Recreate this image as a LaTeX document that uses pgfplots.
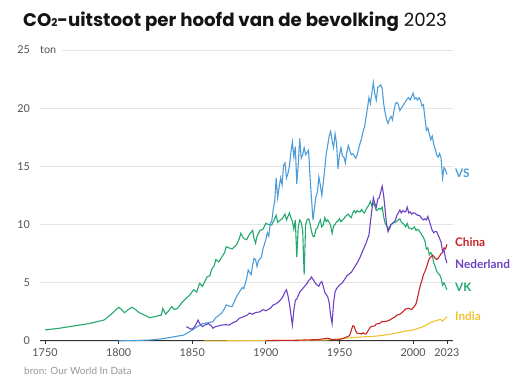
\documentclass[border=0pt]{standalone}
\usepackage{pgfplots}
\pgfplotsset{compat=1.18}
\usepackage{fontspec}
\setmainfont{Lato}
\newfontfamily\titlefont{Poppins}
\definecolor{vsblue}{RGB}{77,157,217}
\definecolor{vkgreen}{RGB}{35,168,110}
\definecolor{nlpurple}{RGB}{108,66,196}
\definecolor{cnred}{RGB}{200,36,40}
\definecolor{ingold}{RGB}{238,196,52}
\definecolor{ticktext}{RGB}{80,80,80}
\definecolor{srctext}{RGB}{150,150,150}
\definecolor{gridc}{RGB}{228,228,228}
\begin{document}
\begin{tikzpicture}
\path[use as bounding box] (0,0) rectangle (524bp,384bp);
\node[anchor=base west, inner sep=0pt] at (23bp,357bp) {\titlefont\fontsize{18.2bp}{20bp}\selectfont\color[RGB]{20,20,20}\textbf{CO\raisebox{0.6bp}{\fontsize{10.7bp}{10bp}\selectfont 2}-uitstoot per hoofd van de bevolking} 2023};
\node[anchor=base west, inner sep=0pt, text=srctext] at (24bp,10bp) {\fontsize{10bp}{12bp}\selectfont bron: Our World In Data};
\begin{axis}[
  at={(40bp,43bp)}, anchor=south west,
  scale only axis, width=413.3bp, height=291bp,
  xmin=1746.6, xmax=2027.3, ymin=0, ymax=25,
  axis x line*=bottom, axis y line*=left,
  y axis line style={draw=none},
  x axis line style={draw=black!80, line width=1bp},
  xtick={1750,1800,1850,1900,1950,2000,2023},
  ytick={0,5,10,15,20,25},
  xtick style={draw=black!80, line width=0.8bp},
  major tick length=3bp, tick align=outside,
  ytick style={draw=none},
  ymajorgrids, grid style={draw=gridc, line width=0.9bp},
  /pgf/number format/assume math mode=true,
  /pgf/number format/1000 sep={},
  tick label style={font=\fontsize{10.8bp}{12bp}\selectfont, text=ticktext},
  yticklabel style={anchor=east, inner sep=0pt, xshift=-7bp},
  xticklabel style={anchor=north, inner sep=0pt, yshift=-4bp},
  clip=false,
]
\addplot[vkgreen, line width=1.1bp] coordinates {
(1750,0.95)(1760,1.1)(1770,1.3)(1780,1.5)(1790,1.8)(1795,2.3)(1800,2.9)(1802,2.7)(1804,2.43)(1806,2.65)(1809,2.9)(1811,2.75)(1814,2.43)(1818,2.2)(1821,2.0)(1825,2.1)(1829,2.23)(1830,2.8)(1832,2.3)(1834,2.6)(1836,2.95)(1838,2.7)(1840,2.8)(1843,3.3)(1846,3.7)(1848,3.9)(1851,4.4)(1853,4.2)(1855,4.95)(1857,4.7)(1860,5.5)(1862,5.6)(1863,6.1)(1865,6.5)(1866,7.0)(1868,6.8)(1870,7.2)(1872,7.6)(1873,8.1)(1875,8.0)(1877,7.9)(1880,8.25)(1882,8.8)(1883,9.25)(1885,8.8)(1887,8.7)(1889,9.2)(1891,9.5)(1892,8.8)(1893,8.4)(1894,9.0)(1896,9.5)(1898,9.6)(1900,10.1)(1902,10.0)(1904,9.97)(1906,10.5)(1907,10.8)(1908,10.2)(1909,10.3)(1911,10.5)(1912,10.7)(1913,10.9)(1914,10.4)(1916,11.0)(1917,10.6)(1918,10.3)(1919,9.6)(1920,10.4)(1921,7.2)(1922,9.8)(1923,10.4)(1924,10.2)(1925,9.5)(1926,5.7)(1927,10.0)(1928,10.4)(1929,10.5)(1930,10.1)(1931,9.4)(1932,9.0)(1933,9.0)(1934,9.6)(1935,9.7)(1936,10.1)(1937,10.4)(1938,9.8)(1939,10.0)(1940,10.6)(1941,10.25)(1942,10.4)(1943,10.2)(1944,9.9)(1945,9.25)(1946,9.9)(1947,10.0)(1948,10.25)(1949,10.3)(1950,10.5)(1951,10.25)(1952,10.4)(1953,10.5)(1954,10.7)(1955,10.8)(1956,10.9)(1957,10.7)(1958,10.6)(1959,11.0)(1960,11.2)(1961,11.0)(1962,11.2)(1963,11.1)(1964,11.1)(1965,11.3)(1966,11.1)(1967,11.0)(1968,11.3)(1969,11.5)(1970,11.7)(1971,12.0)(1972,11.6)(1973,11.8)(1974,11.6)(1975,11.2)(1976,11.3)(1977,11.4)(1978,11.3)(1979,11.5)(1980,10.7)(1981,10.1)(1982,9.9)(1983,9.7)(1984,9.6)(1985,10.0)(1986,10.1)(1987,10.2)(1988,10.2)(1989,10.3)(1990,10.4)(1991,10.5)(1992,10.2)(1993,10.1)(1994,10.0)(1995,9.8)(1996,10.1)(1997,9.7)(1998,9.7)(1999,9.6)(2000,9.7)(2001,9.8)(2002,9.5)(2003,9.6)(2004,9.5)(2005,9.3)(2006,9.1)(2007,8.9)(2008,8.6)(2009,7.9)(2010,8.0)(2011,7.4)(2012,7.6)(2013,7.4)(2014,6.7)(2015,6.4)(2016,6.0)(2017,5.8)(2018,5.7)(2019,5.4)(2020,4.8)(2021,5.0)(2022,4.7)(2023,4.4)
};
\addplot[vsblue, line width=1.1bp] coordinates {
(1800,0.02)(1810,0.04)(1820,0.08)(1825,0.12)(1830,0.2)(1835,0.3)(1840,0.42)(1844,0.5)(1847,0.7)(1850,0.95)(1853,1.2)(1857,1.5)(1860,1.55)(1864,1.66)(1866,2.0)(1868,2.2)(1870,2.4)(1872,2.8)(1873,3.1)(1875,3.0)(1877,2.95)(1879,3.5)(1880,3.8)(1882,4.2)(1884,4.6)(1885,4.5)(1887,5.4)(1888,6.1)(1890,5.7)(1891,6.5)(1892,7.1)(1893,7.0)(1894,6.4)(1895,6.9)(1897,7.2)(1898,7.9)(1900,8.7)(1901,9.3)(1902,9.0)(1903,10.1)(1904,10.3)(1905,11.3)(1906,12.0)(1907,14.0)(1908,12.3)(1909,13.2)(1910,14.0)(1911,13.4)(1912,15.1)(1913,15.3)(1914,14.0)(1915,14.4)(1916,15.0)(1917,16.2)(1918,17.1)(1919,15.8)(1920,16.7)(1921,13.5)(1922,15.2)(1923,17.4)(1924,15.7)(1925,16.0)(1926,16.6)(1927,16.0)(1928,16.2)(1929,16.4)(1930,14.1)(1931,12.2)(1932,10.4)(1933,11.4)(1934,12.4)(1935,12.8)(1936,14.1)(1937,13.4)(1938,12.5)(1939,13.6)(1940,14.8)(1941,16.1)(1942,16.8)(1943,17.6)(1944,18.0)(1945,17.2)(1946,16.6)(1947,17.8)(1948,17.0)(1949,14.8)(1950,16.0)(1951,16.6)(1952,15.9)(1953,15.8)(1954,15.3)(1955,16.2)(1956,16.8)(1957,16.4)(1958,16.0)(1959,16.1)(1960,15.9)(1961,15.7)(1962,16.0)(1963,16.5)(1964,17.0)(1965,17.4)(1966,18.0)(1967,18.4)(1968,19.2)(1969,20.0)(1970,20.9)(1971,20.4)(1972,21.3)(1973,22.2)(1974,21.2)(1975,20.7)(1976,21.8)(1977,21.9)(1978,22.0)(1979,21.7)(1980,20.4)(1981,19.6)(1982,19.0)(1983,18.7)(1984,19.1)(1985,19.3)(1986,19.0)(1987,19.8)(1988,20.4)(1989,20.5)(1990,20.3)(1991,19.8)(1992,20.0)(1993,20.2)(1994,20.4)(1995,20.6)(1996,20.8)(1997,20.9)(1998,20.7)(1999,21.0)(2000,21.3)(2001,20.8)(2002,20.9)(2003,20.7)(2004,20.9)(2005,20.7)(2006,20.2)(2007,20.3)(2008,19.2)(2009,18.1)(2010,18.3)(2011,17.8)(2012,17.3)(2013,17.6)(2014,16.9)(2015,16.5)(2016,16.0)(2017,15.8)(2018,16.1)(2019,15.7)(2020,14.0)(2021,14.9)(2022,14.7)(2023,14.3)
};
\addplot[ingold, line width=1.1bp] coordinates {
(1858,0.01)(1880,0.02)(1900,0.04)(1920,0.06)(1940,0.08)(1950,0.18)(1955,0.25)(1960,0.3)(1965,0.35)(1970,0.38)(1975,0.42)(1980,0.5)(1985,0.6)(1990,0.72)(1995,0.85)(2000,0.95)(2005,1.15)(2008,1.3)(2010,1.45)(2012,1.58)(2014,1.7)(2016,1.75)(2018,1.85)(2019,1.83)(2020,1.7)(2021,1.85)(2022,1.95)(2023,2.1)
};
\addplot[cnred, line width=1.1bp] coordinates {
(1900,0.03)(1910,0.05)(1920,0.06)(1930,0.1)(1935,0.12)(1940,0.2)(1942,0.25)(1945,0.12)(1948,0.1)(1950,0.14)(1952,0.2)(1954,0.3)(1956,0.4)(1957,0.5)(1958,0.9)(1959,1.3)(1960,1.25)(1961,0.85)(1962,0.66)(1963,0.65)(1964,0.65)(1965,0.6)(1966,0.7)(1967,0.62)(1968,0.6)(1969,0.8)(1970,1.0)(1971,1.2)(1972,1.25)(1974,1.3)(1975,1.46)(1977,1.5)(1979,1.68)(1980,1.66)(1982,1.7)(1984,1.8)(1986,1.95)(1988,2.1)(1989,2.23)(1991,2.3)(1993,2.5)(1995,2.75)(1997,2.8)(1999,2.7)(2001,3.0)(2002,3.2)(2003,3.7)(2004,4.3)(2005,4.8)(2006,5.2)(2007,5.7)(2008,5.95)(2009,6.3)(2010,6.7)(2011,7.1)(2012,7.2)(2013,7.35)(2014,7.3)(2015,7.1)(2016,7.0)(2017,7.1)(2018,7.3)(2019,7.5)(2020,7.6)(2021,8.0)(2022,7.9)(2023,8.3)
};
\addplot[nlpurple, line width=1.1bp] coordinates {
(1846,1.23)(1848,1.1)(1850,1.0)(1852,1.3)(1854,1.8)(1855,1.5)(1857,1.23)(1859,1.4)(1861,1.5)(1863,1.3)(1864,1.1)(1866,1.25)(1868,1.3)(1870,1.37)(1873,1.4)(1875,1.37)(1878,1.6)(1880,1.7)(1882,1.95)(1885,2.1)(1887,2.2)(1889,2.4)(1891,2.3)(1893,2.45)(1896,2.5)(1898,2.7)(1900,2.6)(1903,2.8)(1905,3.1)(1907,3.2)(1909,3.4)(1911,3.7)(1912,3.95)(1913,4.2)(1914,4.4)(1915,3.9)(1916,3.2)(1917,2.3)(1918,1.37)(1919,2.6)(1920,3.5)(1921,3.6)(1922,3.9)(1923,4.2)(1925,4.5)(1927,4.8)(1928,4.95)(1929,5.2)(1930,5.3)(1931,5.5)(1932,5.3)(1933,5.1)(1934,4.9)(1935,4.8)(1936,4.7)(1937,5.0)(1938,5.1)(1939,4.7)(1940,4.2)(1941,4.0)(1942,3.8)(1943,3.3)(1944,2.2)(1945,1.5)(1946,3.3)(1947,4.2)(1948,4.5)(1950,4.8)(1952,5.0)(1953,5.2)(1955,5.6)(1957,5.8)(1958,5.9)(1960,6.3)(1962,6.7)(1964,7.2)(1966,7.8)(1968,8.4)(1970,9.1)(1971,10.2)(1972,11.25)(1973,12.3)(1974,11.8)(1975,11.5)(1976,12.2)(1977,12.3)(1978,12.8)(1979,13.3)(1980,12.5)(1981,11.25)(1982,10.0)(1983,9.4)(1984,9.8)(1985,10.0)(1986,10.1)(1987,10.2)(1988,10.4)(1989,10.8)(1990,11.0)(1991,11.25)(1992,11.0)(1993,11.2)(1994,11.1)(1995,11.1)(1996,11.5)(1997,11.0)(1998,11.1)(1999,10.9)(2000,11.0)(2001,11.0)(2002,10.9)(2003,10.8)(2004,10.8)(2005,10.7)(2006,10.5)(2007,10.4)(2008,10.5)(2009,10.4)(2010,10.7)(2011,10.3)(2012,9.9)(2013,9.5)(2014,9.3)(2015,9.4)(2016,9.4)(2017,9.1)(2018,8.8)(2019,8.5)(2020,7.7)(2021,7.8)(2022,7.1)(2023,6.7)
};
\node[anchor=west, inner xsep=0pt, inner ysep=2bp, fill=white, text=ticktext, font=\fontsize{10.8bp}{12bp}\selectfont] at (axis cs:1746.6,25) {ton\hspace*{6bp}};
\begin{scope}[every node/.style={anchor=west, inner sep=0pt, font=\fontsize{11.8bp}{13bp}\selectfont\bfseries}]
\node[text=vsblue] at (axis cs:2028.4,14.43) {VS};
\node[text=cnred] at (axis cs:2028.4,8.45) {China};
\node[text=nlpurple] at (axis cs:2028.4,6.6) {Nederland};
\node[text=vkgreen] at (axis cs:2028.4,4.64) {VK};
\node[text=ingold] at (axis cs:2028.4,2.17) {India};
\end{scope}
\end{axis}
\end{tikzpicture}
\end{document}
